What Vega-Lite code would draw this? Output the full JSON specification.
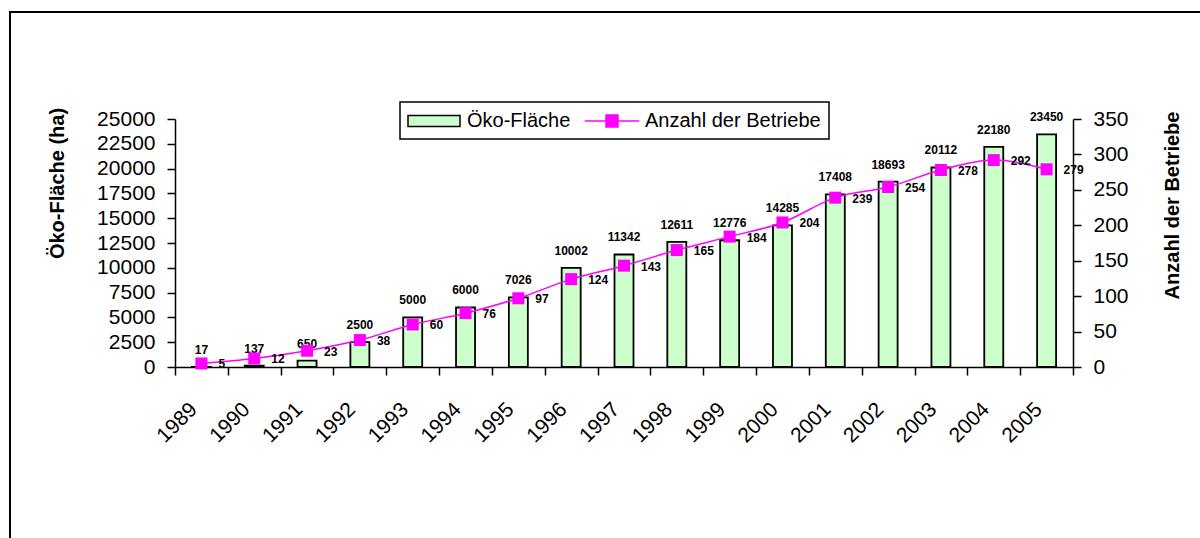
{
  "$schema": "https://vega.github.io/schema/vega-lite/v6.json",
  "width": 1191,
  "height": 527,
  "padding": {"left": 10, "top": 12, "right": 0, "bottom": 0},
  "autosize": {"type": "none"},
  "background": "white",
  "config": {
    "font": "Liberation Sans",
    "view": {"stroke": "black", "strokeWidth": 2},
    "axis": {
      "grid": false,
      "domainColor": "black",
      "domainWidth": 1.5,
      "tickColor": "black",
      "tickWidth": 1.5,
      "tickSize": 8,
      "labelColor": "black",
      "labelFont": "Liberation Sans",
      "labelFontSize": 21,
      "titleColor": "black",
      "titleFont": "Liberation Sans",
      "titleFontSize": 20,
      "titleFontWeight": "bold"
    },
    "legend": {
      "orient": "none",
      "legendX": 390,
      "legendY": 90,
      "direction": "horizontal",
      "strokeColor": "black",
      "padding": 8,
      "labelFont": "Liberation Sans",
      "labelFontSize": 20,
      "labelColor": "black",
      "labelLimit": 400,
      "columnPadding": 10,
      "symbolSize": 256,
      "symbolStrokeWidth": 1.5
    }
  },
  "data": {
    "values": [
      {"Jahr": "1989", "Flaeche": 17, "Betriebe": 5},
      {"Jahr": "1990", "Flaeche": 137, "Betriebe": 12},
      {"Jahr": "1991", "Flaeche": 650, "Betriebe": 23},
      {"Jahr": "1992", "Flaeche": 2500, "Betriebe": 38},
      {"Jahr": "1993", "Flaeche": 5000, "Betriebe": 60},
      {"Jahr": "1994", "Flaeche": 6000, "Betriebe": 76},
      {"Jahr": "1995", "Flaeche": 7026, "Betriebe": 97},
      {"Jahr": "1996", "Flaeche": 10002, "Betriebe": 124},
      {"Jahr": "1997", "Flaeche": 11342, "Betriebe": 143},
      {"Jahr": "1998", "Flaeche": 12611, "Betriebe": 165},
      {"Jahr": "1999", "Flaeche": 12776, "Betriebe": 184},
      {"Jahr": "2000", "Flaeche": 14285, "Betriebe": 204},
      {"Jahr": "2001", "Flaeche": 17408, "Betriebe": 239},
      {"Jahr": "2002", "Flaeche": 18693, "Betriebe": 254},
      {"Jahr": "2003", "Flaeche": 20112, "Betriebe": 278},
      {"Jahr": "2004", "Flaeche": 22180, "Betriebe": 292},
      {"Jahr": "2005", "Flaeche": 23450, "Betriebe": 279}
    ]
  },
  "encoding": {
    "x": {
      "field": "Jahr",
      "type": "ordinal",
      "scale": {"range": [165, 1063], "paddingInner": 0, "paddingOuter": 0},
      "axis": {
        "orient": "bottom",
        "offset": -172,
        "title": null,
        "labelAngle": -45,
        "labelAlign": "right",
        "labelBaseline": "middle",
        "labelPadding": 31,
        "labelOffset": -8,
        "tickBand": "extent"
      }
    }
  },
  "layer": [
    {
      "encoding": {
        "y": {
          "field": "Flaeche",
          "type": "quantitative",
          "scale": {"domain": [0, 25000], "range": [355, 107]},
          "axis": {
            "orient": "left",
            "offset": -165,
            "values": [0, 2500, 5000, 7500, 10000, 12500, 15000, 17500, 20000, 22500, 25000],
            "format": "d",
            "labelPadding": 12,
            "title": "Öko-Fläche (ha)",
            "titleX": -112,
            "titleY": 171,
            "titleAngle": -90,
            "titleAlign": "center",
            "titleBaseline": "alphabetic"
          }
        }
      },
      "layer": [
        {
          "mark": {"type": "bar", "width": 19, "strokeWidth": 1.8, "strokeOpacity": 1, "fillOpacity": 1},
          "encoding": {
            "fill": {
              "datum": "Öko-Fläche",
              "scale": {"domain": ["Öko-Fläche", "Anzahl der Betriebe"], "range": ["#ccffcc", "#ff00ff"]},
              "legend": {
                "title": null,
                "encoding": {
                  "symbols": {
                    "shape": {"value": {"expr": "datum.value === 'Öko-Fläche' ? 'M-3.25,-0.69H3.25V0.69H-3.25Z' : 'M-3.4,0H3.4M-0.75,-0.75H0.75V0.75H-0.75Z'"}},
                    "size": {"value": 256},
                    "strokeWidth": {"value": 1.5},
                    "opacity": {"value": 1},
                    "x": {"value": 26},
                    "y": {"value": 11}
                  },
                  "labels": {
                    "x": {"value": 59},
                    "y": {"value": 11}
                  },
                  "legend": {"strokeWidth": {"value": 1.5}}
                }
              }
            },
            "stroke": {
              "datum": "Öko-Fläche",
              "scale": {"domain": ["Öko-Fläche", "Anzahl der Betriebe"], "range": ["#000000", "#ff00ff"]},
              "legend": {
                "title": null,
                "encoding": {
                  "symbols": {
                    "shape": {"value": {"expr": "datum.value === 'Öko-Fläche' ? 'M-3.25,-0.69H3.25V0.69H-3.25Z' : 'M-3.4,0H3.4M-0.75,-0.75H0.75V0.75H-0.75Z'"}},
                    "size": {"value": 256},
                    "strokeWidth": {"value": 1.5},
                    "opacity": {"value": 1},
                    "x": {"value": 26},
                    "y": {"value": 11}
                  },
                  "labels": {
                    "x": {"value": 59},
                    "y": {"value": 11}
                  },
                  "legend": {"strokeWidth": {"value": 1.5}}
                }
              }
            }
          }
        },
        {
          "mark": {"type": "text", "baseline": "bottom", "dy": -10, "fontSize": 12, "fontWeight": "bold", "color": "black"},
          "encoding": {
            "text": {"field": "Flaeche", "type": "quantitative", "format": "d"}
          }
        }
      ]
    },
    {
      "encoding": {
        "y": {
          "field": "Betriebe",
          "type": "quantitative",
          "scale": {"domain": [0, 350], "range": [355, 107]},
          "axis": {
            "orient": "right",
            "offset": -128,
            "values": [0, 50, 100, 150, 200, 250, 300, 350],
            "format": "d",
            "labelPadding": 12,
            "title": "Anzahl der Betriebe",
            "titleX": 105,
            "titleY": 193,
            "titleAngle": -90,
            "titleAlign": "center",
            "titleBaseline": "alphabetic"
          }
        }
      },
      "layer": [
        {
          "mark": {"type": "line", "interpolate": "monotone", "strokeWidth": 1.5},
          "encoding": {
            "stroke": {"datum": "Anzahl der Betriebe"}
          }
        },
        {
          "mark": {"type": "point", "shape": "square", "size": 144, "filled": true, "opacity": 1, "strokeWidth": 0},
          "encoding": {
            "fill": {"datum": "Anzahl der Betriebe"}
          }
        },
        {
          "mark": {"type": "text", "align": "left", "baseline": "middle", "dx": 17, "dy": 1, "fontSize": 12, "fontWeight": "bold", "color": "black"},
          "encoding": {
            "text": {"field": "Betriebe", "type": "quantitative", "format": "d"}
          }
        }
      ]
    }
  ],
  "resolve": {"scale": {"y": "independent"}}
}
